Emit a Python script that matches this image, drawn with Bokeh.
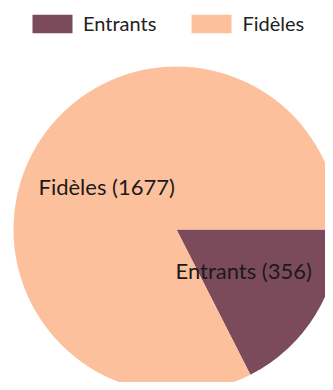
import math
from bokeh.plotting import figure
from bokeh.models import Range1d, Legend, LegendItem, ColumnDataSource
from bokeh.core.properties import value
from bokeh.embed import file_html
from bokeh.resources import INLINE

categories = ["Entrants", "Fidèles"]
counts = [356, 1677]
colors = ["#7B4B5B", "#FCC19C"]

W, H = 325, 382
p = figure(width=W, height=H, output_backend="svg", toolbar_location=None,
           x_range=Range1d(0, W), y_range=Range1d(0, H), min_border=0,
           outline_line_color=None, background_fill_color="white")
p.axis.visible = False
p.grid.visible = False

total = sum(counts)
ent_frac = counts[0] / total
starts = [-2 * math.pi * ent_frac, 0.0]
ends = [0.0, 2 * math.pi - 2 * math.pi * ent_frac]

cx, cy = 176, H - 229
R = 163
src = ColumnDataSource(dict(start=starts, end=ends, color=colors, cat=categories))
r = p.wedge(x=cx, y=cy, radius=R, start_angle="start", end_angle="end",
            fill_color="color", line_color=None, source=src)

labels = [f"{c} ({n})" for c, n in zip(categories, counts)]
lx = [175, 38]
ly = [H - 270, H - 186]
p.text(x=lx, y=ly, text=labels, text_font=value("Lato"), text_font_size="22px",
       text_color="#1a1a1a", text_baseline="middle", text_align="left")

legend = Legend(items=[LegendItem(label=categories[i], renderers=[r], index=i) for i in range(2)],
                orientation="horizontal", location=(27, H - 35),
                glyph_width=50, glyph_height=23, label_text_font="Lato",
                label_text_font_size="20px", label_text_color="#222222",
                border_line_color=None, background_fill_alpha=0,
                padding=0, margin=0, spacing=30, label_standoff=6)
p.add_layout(legend, "center")

open("out.html", "w").write(file_html(p, INLINE))
